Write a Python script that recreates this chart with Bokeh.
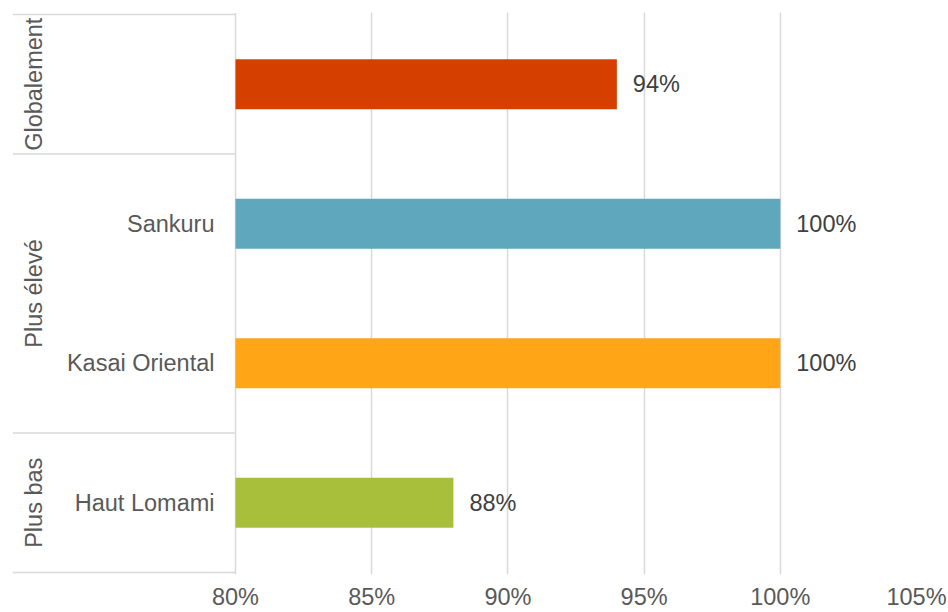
import math
from bokeh.plotting import figure
from bokeh.models import ColumnDataSource, FixedTicker, Range1d
from bokeh.core.properties import value
from bokeh.embed import file_html
from bokeh.resources import INLINE

# ---- data ----
rows = ["Globalement", "Sankuru", "Kasai Oriental", "Haut Lomami"]
row_labels = ["", "Sankuru", "Kasai Oriental", "Haut Lomami"]
values = [94, 100, 100, 88]
value_labels = ["94%", "100%", "100%", "88%"]
colors = ["#D54000", "#5FA7BC", "#FFA516", "#A8BF3B"]
groups = ["Globalement", "Plus élevé", "Plus bas"]
group_sizes = [1, 2, 1]
ticks = [80, 85, 90, 95, 100, 105]
tick_labels = ["80%", "85%", "90%", "95%", "100%", "105%"]

FONT = "Liberation Sans"
FS = "23.5px"
AXIS_COLOR = "#595959"
GRID = "#D9D9D9"

n = len(rows)
y_centers = [n - i - 0.5 for i in range(n)]

# layout (pixels)
W, H = 948, 612
frame_left_px = 12     # start of left category block
axis_px = 235          # 80% position within figure
frame_right_px = 916
px_per_unit = (frame_right_px - axis_px) / (ticks[-1] - ticks[0])
x_start = ticks[0] - (axis_px - frame_left_px) / px_per_unit
x_end = ticks[-1]

row_px = 139.5
pad = 2 / row_px

p = figure(width=W, height=H, output_backend="svg", toolbar_location=None,
           x_range=Range1d(x_start, x_end), y_range=Range1d(-pad, n + pad),
           min_border_left=frame_left_px, min_border_right=W - frame_right_px,
           min_border_top=12, min_border_bottom=38, y_axis_location=None)
p.outline_line_color = None
p.background_fill_color = "white"
p.border_fill_color = "white"

src = ColumnDataSource(dict(y=y_centers, v=values, c=colors, lab=value_labels,
                            rl=row_labels, base=[ticks[0]] * n))
p.hbar(y="y", left="base", right="v", height=0.358, fill_color="c",
       line_color=None, source=src)

# value labels
p.text(x="v", y="y", text="lab", source=src, x_offset=16, text_align="left",
       text_baseline="middle", text_color="#404040",
       text_font=value(FONT), text_font_size=FS)

# category labels
p.text(x=[ticks[0]] * n, y=y_centers, text=row_labels, x_offset=-21,
       text_align="right", text_baseline="middle", text_color=AXIS_COLOR,
       text_font=value(FONT), text_font_size=FS)

# group separators and labels
bounds = [n]
acc = n
for s in group_sizes:
    acc -= s
    bounds.append(acc)
p.segment(x0=[x_start] * len(bounds), x1=[ticks[0]] * len(bounds),
          y0=bounds, y1=bounds, line_color=GRID, line_width=1.5)
g_centers = [(bounds[i] + bounds[i + 1]) / 2 for i in range(len(groups))]
gx = x_start + 21 / px_per_unit
p.text(x=[gx] * len(groups), y=g_centers, text=groups, angle=math.pi / 2,
       text_align="center", text_baseline="middle", text_color=AXIS_COLOR,
       text_font=value(FONT), text_font_size=FS)

# axis and grid
p.xaxis.ticker = FixedTicker(ticks=ticks)
p.xaxis.major_label_overrides = {t: l for t, l in zip(ticks, tick_labels)}
p.xaxis.axis_line_color = None
p.xaxis.major_tick_line_color = None
p.xaxis.minor_tick_line_color = None
p.xaxis.major_tick_out = 0
p.xaxis.major_label_standoff = 9
p.xaxis.major_label_text_font = FONT
p.xaxis.major_label_text_font_size = FS
p.xaxis.major_label_text_color = AXIS_COLOR
p.xgrid.ticker = FixedTicker(ticks=ticks)
p.xgrid.grid_line_color = GRID
p.xgrid.grid_line_width = 1.5
p.ygrid.visible = False

open("out.html", "w").write(file_html(p, INLINE))
